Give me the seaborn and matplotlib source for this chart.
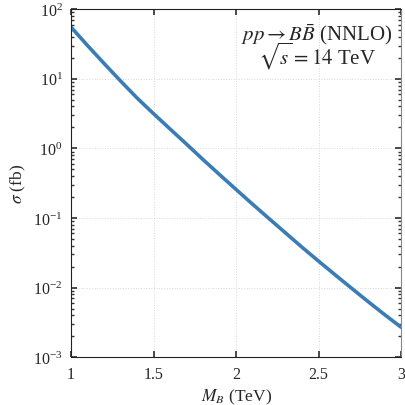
import matplotlib
matplotlib.use("Agg")
import matplotlib.pyplot as plt
import numpy as np
import pandas as pd
import seaborn as sns

# B Bbar pair production cross section, 14 TeV, NNLO
mass_tev = [1.0, 1.1, 1.2, 1.3, 1.4, 1.5, 1.6, 1.7, 1.8, 1.9, 2.0,
            2.1, 2.2, 2.3, 2.4, 2.5, 2.6, 2.7, 2.8, 2.9, 3.0]
sigma_fb = [55.2, 30.0, 16.6, 9.3, 5.3, 3.15, 1.9, 1.15, 0.69, 0.42, 0.257,
            0.158, 0.098, 0.061, 0.038, 0.024, 0.0153, 0.0098, 0.0063, 0.0041, 0.0027]
x_ticks = [1, 1.5, 2, 2.5, 3]
x_tick_labels = ["1", "1.5", "2", "2.5", "3"]

df = pd.DataFrame({"M": mass_tev, "sigma": sigma_fb})

sns.set_theme(style="ticks")
plt.rcParams["font.family"] = ["Liberation Serif", "DejaVu Serif"]
plt.rcParams["mathtext.fontset"] = "stix"
plt.rcParams["xtick.direction"] = "in"
plt.rcParams["ytick.direction"] = "in"

fig = plt.figure(figsize=(4.06, 4.06), dpi=100)
ax = fig.add_axes([0.175, 0.1175, 0.813, 0.8575])

sns.lineplot(data=df, x="M", y="sigma", ax=ax, color="#3a7db6", linewidth=2.6)

ax.set_yscale("log")
ax.set_xlim(1, 3)
ax.set_ylim(1e-3, 1e2)
ax.set_xticks(x_ticks)
ax.set_xticklabels(x_tick_labels)
ax.grid(True, which="major", linestyle=":", color="#d8d8d8", linewidth=0.7)

ax.tick_params(axis="both", which="both", top=True, right=True, labelsize=11.5,
               color="#333333", pad=6)
ax.tick_params(axis="both", which="major", length=4)
ax.tick_params(axis="y", which="minor", length=2)
for s in ["left", "bottom", "top"]:
    ax.spines[s].set_color("#222222")
    ax.spines[s].set_linewidth(0.8)
ax.spines["right"].set_color("#888888")
ax.spines["right"].set_linewidth(0.8)

ax.set_xlabel(r"$M_B$ (TeV)", fontsize=12.5, labelpad=4)
ax.set_ylabel(r"$\sigma$ (fb)", fontsize=12.5, labelpad=4)

ax.text(0.745, 0.965, r"$pp \rightarrow B\bar{B}$ (NNLO)" + "\n" + r"$\sqrt{s} = 14$ TeV",
        transform=ax.transAxes, ha="center", va="top", fontsize=15,
        linespacing=0.75, multialignment="center")

fig.savefig("out.png", dpi=100)
